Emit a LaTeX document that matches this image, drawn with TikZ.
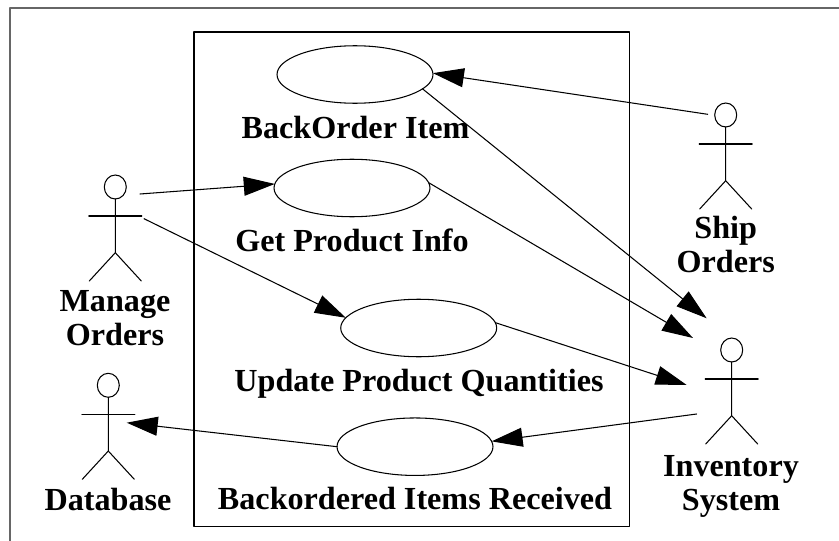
\documentclass[tikz,border=0pt]{standalone}
\usepackage{fontspec}
\setmainfont{Liberation Serif}
\usetikzlibrary{arrows.meta,shapes.geometric}
\tikzset{
usecase/.style={draw,ellipse,inner sep=0pt,outer sep=0pt,minimum width=3.12cm,minimum height=1.15cm},
head/.style={draw,ellipse,inner sep=0pt,outer sep=0pt,minimum width=0.44cm,minimum height=0.48cm},
caption/.style={font=\fontsize{18.3}{19.3}\selectfont\bfseries,align=center,inner sep=0pt,anchor=base}
}
\begin{document}
\begin{tikzpicture}[line cap=round,line join=round,line width=0.6pt,>={Triangle[length=0.62cm,width=0.38cm]},x=0.02cm,y=-0.02cm]
\useasboundingbox (0,0) rectangle (839,541);
\draw[color=black!60] (10,541) -- (10,8) -- (839,8);
\draw (194,32) rectangle (629.7,526.7);
% use cases
\node[usecase] (backorder) at (355,74.5) {};
\node[usecase] (getinfo) at (352,188) {};
\node[usecase] (update) at (418.7,328) {};
\node[usecase] (received) at (415,446.7) {};
\node[caption] (backorderlabel) at (355.5,138) {BackOrder Item};
\node[caption] (getinfolabel) at (352,251.7) {Get Product Info};
\node[caption] (updatelabel) at (419,391.7) {Update Product Quantities};
\node[caption] (receivedlabel) at (415,509.3) {Backordered Items Received};
% actors
\foreach \n/\x/\y in {manage/115.3/187,database/108.3/385.3,ship/725.7/115,inventory/731.7/350}{
\node[head] (\n) at (\x,\y) {};
\draw[shift={(\x,\y)}] (\n.south) -- (0,65.7) -- (-26,94);
\draw[shift={(\x,\y)}] (0,65.7) -- (26,94);
\draw[shift={(\x,\y)}] (-26.5,29) -- (26.5,29);
}
\node[caption] (managelabel) at (115,345) {Manage\\Orders};
\node[caption] (databaselabel) at (108,510.7) {Database};
\node[caption] (shiplabel) at (725.7,272.3) {Ship\\Orders};
\node[caption] (inventorylabel) at (731,510.7) {Inventory\\System};
% free ends beside the actors
\coordinate (manageA) at (140,194);
\coordinate (manageB) at (144,218.7);
\coordinate (databaseA) at (126.7,422.7);
\coordinate (shipA) at (707.7,114.3);
\coordinate (inventoryA) at (706.7,318.3);
\coordinate (inventoryB) at (693,338);
\coordinate (inventoryC) at (686.7,385);
\coordinate (inventoryD) at (696.7,414);
% connectors
\draw[->] (manageA) -- (getinfo.177);
\draw[->] (manageB) -- (update.172);
\draw[->] (shipA) -- (backorder.1);
\draw[->] (backorder.-12) -- (inventoryA);
\draw[->] (getinfo.4) -- (inventoryB);
\draw[->] (update.4) -- (inventoryC);
\draw[->] (inventoryD) -- (received.4);
\draw[->] (received.west) -- (databaseA);
\end{tikzpicture}
\end{document}
